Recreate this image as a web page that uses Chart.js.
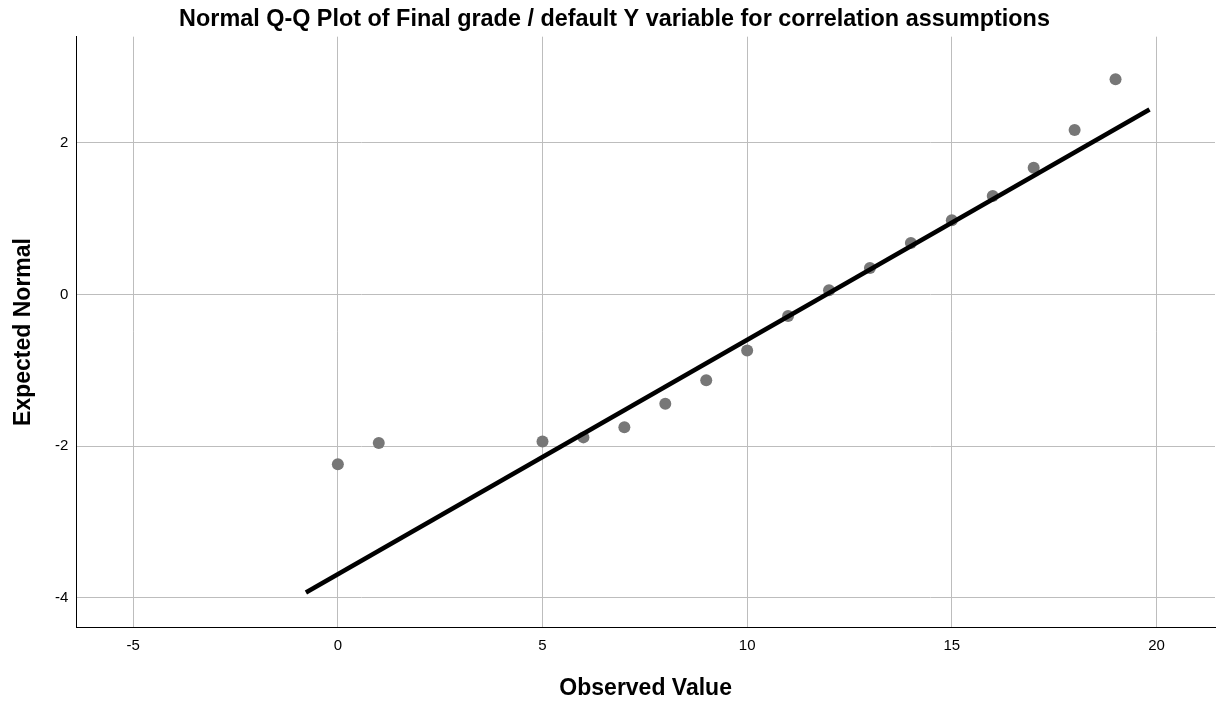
<!DOCTYPE html>
<html>
<head>
<meta charset="utf-8">
<script src="https://cdn.jsdelivr.net/npm/chart.js@4"></script>
<style>
html,body{margin:0;padding:0;background:#fff;}
#wrap{width:1221px;height:703px;position:relative;}
</style>
</head>
<body>
<div id="wrap"><canvas id="c"></canvas></div>
<script>
// Data
const observed = [0, 1, 5, 6, 7, 8, 9, 10, 11, 12, 13, 14, 15, 16, 17, 18, 19];
const expectedNormal = [-2.24, -1.96, -1.94, -1.885, -1.75, -1.44, -1.13, -0.74, -0.285, 0.055, 0.35, 0.68, 0.98, 1.30, 1.67, 2.17, 2.84];
const lineX = [-0.78, 19.83];
const lineY = [-3.93, 2.44];
const xTicks = [-5, 0, 5, 10, 15, 20];
const yTicks = [-4, -2, 0, 2];

const titleText = 'Normal Q-Q Plot of Final grade / default Y variable for correlation assumptions';
const xTitle = 'Observed Value';
const yTitle = 'Expected Normal';

const FONT = "Arial, 'Liberation Sans', Helvetica, sans-serif";

const pts = observed.map((x, i) => ({x: x, y: expectedNormal[i]}));
const linePts = lineX.map((x, i) => ({x: x, y: lineY[i]}));

new Chart(document.getElementById('c'), {
  type: 'scatter',
  data: {
    datasets: [
      {
        type: 'line',
        data: linePts,
        borderColor: '#000',
        borderWidth: 4.5,
        pointRadius: 0,
        fill: false,
        tension: 0,
        borderCapStyle: 'butt',
        order: 0
      },
      {
        data: pts,
        backgroundColor: '#777777',
        borderWidth: 0,
        pointRadius: 6,
        pointHoverRadius: 6,
        order: 1
      }
    ]
  },
  options: {
    responsive: true,
    maintainAspectRatio: false,
    animation: false,
    events: [],
    layout: { padding: { left: 10.3, right: 2.3, top: 0, bottom: 0 } },
    plugins: {
      legend: { display: false },
      tooltip: { enabled: false },
      title: {
        display: true,
        text: titleText,
        color: '#000',
        font: { family: FONT, size: 23.4, weight: 'bold' },
        padding: { top: 5.5, bottom: 3.1 }
      }
    },
    scales: {
      x: {
        type: 'linear',
        min: -6.39,
        max: 21.43,
        afterBuildTicks: s => { s.ticks = xTicks.map(v => ({value: v})); },
        afterFit: s => { s.height = 75.7; },
        grid: { color: '#bdbdbd', lineWidth: 1, drawTicks: false },
        border: { color: '#000', width: 1 },
        ticks: { color: '#000', font: { family: FONT, size: 15 }, padding: 10, maxRotation: 0 },
        title: {
          display: true,
          text: xTitle,
          color: '#000',
          font: { family: FONT, size: 23, weight: 'bold' },
          padding: { top: 0, bottom: 0.4 }
        }
      },
      y: {
        type: 'linear',
        min: -4.39,
        max: 3.40,
        afterBuildTicks: s => { s.ticks = yTicks.map(v => ({value: v})); },
        afterFit: s => { s.width = 66.0; },
        grid: { color: '#bdbdbd', lineWidth: 1, drawTicks: false },
        border: { color: '#000', width: 1 },
        ticks: { color: '#000', font: { family: FONT, size: 15 }, padding: 8 },
        title: {
          display: true,
          text: yTitle,
          color: '#000',
          font: { family: FONT, size: 23, weight: 'bold', lineHeight: 1.13 },
          padding: { top: 0, bottom: 0 }
        }
      }
    }
  }
});
</script>
</body>
</html>
